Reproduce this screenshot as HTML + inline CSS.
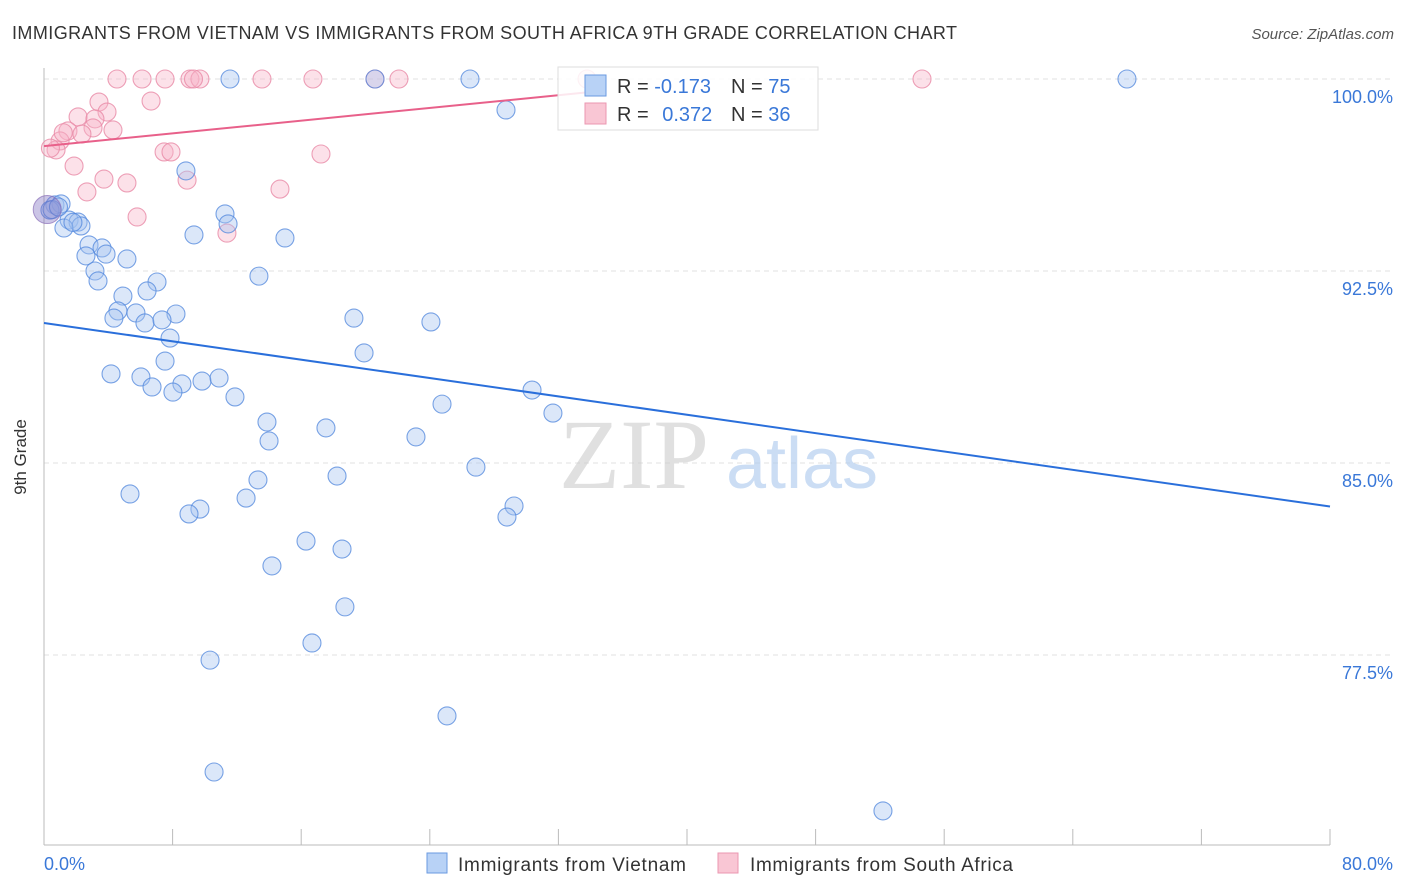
<!DOCTYPE html>
<html><head><meta charset="utf-8"><style>
body{margin:0;background:#fff;font-family:"Liberation Sans",sans-serif;}
svg{display:block}
</style></head><body>
<svg id="chart" width="1406" height="892" font-family="Liberation Sans, sans-serif">
<text x="12" y="39" font-size="18" fill="#333" textLength="945">IMMIGRANTS FROM VIETNAM VS IMMIGRANTS FROM SOUTH AFRICA 9TH GRADE CORRELATION CHART</text>
<text x="1394" y="39" font-size="15" fill="#555" text-anchor="end" font-style="italic">Source: ZipAtlas.com</text>
<g id="grid"></g>
<text x="634" y="488" font-size="100" fill="#ccc" opacity="0.6" text-anchor="middle" font-family="Liberation Serif, serif">ZIP</text>
<text x="802" y="488" font-size="72" fill="#aac8ee" opacity="0.6" text-anchor="middle">atlas</text>
<line x1="44" y1="68" x2="44" y2="845" stroke="#bbb"/>
<line x1="44" y1="845" x2="1330" y2="845" stroke="#bbb"/>
<text x="26" y="457" font-size="17" fill="#333" text-anchor="middle" transform="rotate(-90 26 457)">9th Grade</text>
<text x="44" y="870" font-size="18" fill="#3a78d8">0.0%</text>
<text x="1393" y="870" font-size="18" fill="#3a78d8" text-anchor="end">80.0%</text>
<g id="pts"></g>
<g id="lines"></g>
<g>
<rect x="558" y="67" width="260" height="63" fill="#fff" fill-opacity="0.85" stroke="#ddd"/>
<rect x="585" y="75" width="21" height="21" fill="#b8d2f6" stroke="#6a9ae0"/>
<rect x="585" y="103" width="21" height="21" fill="#f9c6d4" stroke="#eb97b1"/>
<text x="617" y="93" font-size="20" fill="#333">R = <tspan fill="#3a78d8">-0.173</tspan></text>
<text x="731" y="93" font-size="20" fill="#333">N = <tspan fill="#3a78d8">75</tspan></text>
<text x="617" y="121" font-size="20" fill="#333">R = <tspan fill="#3a78d8" dx="8">0.372</tspan></text>
<text x="731" y="121" font-size="20" fill="#333">N = <tspan fill="#3a78d8">36</tspan></text>
</g>
<g>
<rect x="427" y="853" width="20" height="20" fill="#b8d2f6" stroke="#6a9ae0"/>
<text x="458" y="871" font-size="19" fill="#333" textLength="228">Immigrants from Vietnam</text>
<rect x="718" y="853" width="20" height="20" fill="#f9c6d4" stroke="#eb97b1"/>
<text x="750" y="871" font-size="19" fill="#333" textLength="263">Immigrants from South Africa</text>
</g>
</svg>
<script>
const yTicks=[100,92.5,85,77.5];
const yTickLabels=["100.0%","92.5%","85.0%","77.5%"];
const xTicks=[0,8,16,24,32,40,48,56,64,72,80];
const vietX=[11.57,20.59,26.50,67.37,28.74,8.83,0.68,1.06,0.37,11.26,1.56,2.12,2.30,1.24,11.45,9.33,14.99,2.80,3.61,2.61,3.86,5.16,3.17,13.37,3.36,7.03,6.41,4.91,4.60,4.35,5.72,8.21,6.28,7.34,19.28,24.07,7.84,19.91,7.53,4.17,6.03,6.72,8.58,8.02,9.83,10.89,11.88,30.36,24.76,31.66,13.87,14.00,17.54,23.14,26.87,18.23,13.31,5.35,12.57,9.70,9.02,29.24,28.80,16.30,18.54,14.18,18.72,16.67,10.33,25.07,10.58,52.19,0.5,0.9,1.8];
const vietY=[100,100,100,100,98.79,96.41,95.08,95.12,94.88,94.73,94.49,94.41,94.26,94.18,94.34,93.91,93.79,93.52,93.40,93.09,93.16,92.97,92.50,92.30,92.11,92.07,91.72,91.52,90.94,90.66,90.86,90.82,90.47,90.59,90.66,90.51,89.88,89.30,88.98,88.48,88.36,87.97,88.09,87.77,88.20,88.32,87.58,87.85,87.30,86.95,86.60,85.86,86.37,86.02,84.84,84.49,84.34,83.79,83.63,83.20,83.01,83.32,82.89,81.95,81.64,80.98,79.38,77.97,77.30,75.12,72.93,71.41,94.9,95.0,94.4];
const saX=[4.54,6.10,7.53,9.08,9.70,13.56,16.73,20.59,22.08,33.78,54.62,6.66,3.42,3.92,2.12,3.17,1.49,4.29,3.05,2.36,1.00,0.75,7.47,7.90,17.23,1.87,3.73,5.16,8.90,2.67,14.68,5.79,11.38,0.4,9.3,1.2];
const saY=[100,100,100,100,100,100,100,100,100,100,100,99.14,99.10,98.71,98.52,98.44,97.97,98.01,98.09,97.85,97.58,97.23,97.15,97.15,97.07,96.60,96.09,95.94,96.05,95.59,95.70,94.61,93.98,97.3,100,97.9];
const vietTrend=[90.47,83.3];
const saTrend=[97.38,99.49];
const saTrendEnd=34;
const X=v=>44+v/80*1286;
const Y=v=>79+(100-v)*25.6;
const NS="http://www.w3.org/2000/svg";
function mk(tag,attrs,parent){const e=document.createElementNS(NS,tag);for(const k in attrs)e.setAttribute(k,attrs[k]);parent.appendChild(e);return e;}
const grid=document.getElementById('grid');
yTicks.forEach((t,i)=>{
 const l=mk('line',{x1:44,x2:1394,y1:Y(t),y2:Y(t),stroke:'#e2e2e2','stroke-dasharray':'5,4'},grid);
 
 
 const tx=mk('text',{x:1393,y:Y(t)+24,'font-size':18,fill:'#3a78d8','text-anchor':'end'},grid);
 tx.textContent=yTickLabels[i];
 
 
});
xTicks.forEach(t=>{
 const l=mk('line',{x1:X(t),x2:X(t),y1:829,y2:845,stroke:'#bbb'},grid);
 
 
});
const pts=document.getElementById('pts');
saX.forEach((x,i)=>{
 const c=mk('circle',{cx:X(x),cy:Y(saY[i]),r:9,fill:'#f8b4c8','fill-opacity':0.4,stroke:'#e88aa6','stroke-opacity':0.8,'stroke-width':1.1},pts);
 
 
});
vietX.forEach((x,i)=>{
 const c=mk('circle',{cx:X(x),cy:Y(vietY[i]),r:9,fill:'#a4c4f0','fill-opacity':0.4,stroke:'#4f86dc','stroke-opacity':0.75,'stroke-width':1.1},pts);
 
 
});
const big=mk('circle',{cx:X(0.2),cy:Y(94.9),r:14,fill:'#7d6fc0','fill-opacity':0.4,stroke:'#8a6fb8','stroke-opacity':0.7},pts);


const lines=document.getElementById('lines');
const bl=mk('line',{x1:X(0),y1:Y(vietTrend[0]),x2:X(80),y2:Y(vietTrend[1]),stroke:'#2a6fdb','stroke-width':2},lines);


const pl=mk('line',{x1:X(0),y1:Y(saTrend[0]),x2:X(saTrendEnd),y2:Y(saTrend[1]),stroke:'#e8608a','stroke-width':2},lines);


</script>
</body></html>
